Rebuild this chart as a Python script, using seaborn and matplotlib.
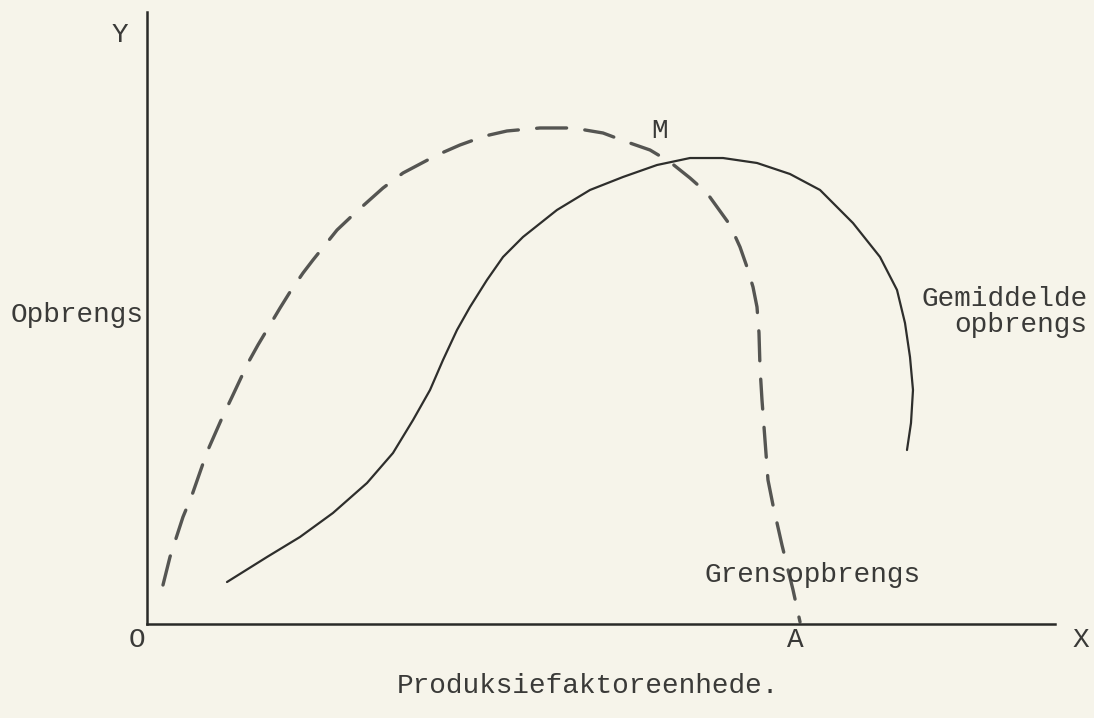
import numpy as np
import matplotlib
matplotlib.use("Agg")
import matplotlib.pyplot as plt
import pandas as pd
import seaborn as sns

# gemiddelde opbrengs (solid curve)
avg_x = [8.81, 13.22, 16.85, 20.48, 24.23, 27.09, 29.30, 31.17, 32.60, 34.14,
         35.57, 37.44, 39.21, 41.41, 45.15, 48.79, 52.42, 56.17, 59.80, 63.44,
         67.18, 70.81, 74.12, 77.75, 80.73, 82.60, 83.48, 84.03, 84.36, 84.14,
         83.70]
avg_y = [6.86, 10.95, 14.22, 18.14, 23.04, 27.94, 33.33, 38.24, 43.14, 48.04,
         51.80, 56.21, 59.97, 63.24, 67.65, 70.92, 73.04, 75.00, 76.14, 76.14,
         75.33, 73.53, 70.92, 65.52, 59.97, 54.58, 49.18, 43.63, 38.24, 32.84,
         28.43]

# grensopbrengs (dashed curve)
mar_x = [1.76, 2.53, 3.96, 4.96, 6.61, 8.26, 9.36, 11.12, 12.22, 14.65, 15.75,
         17.18, 18.28, 20.93, 22.91, 25.99, 28.19, 31.94, 34.47, 37.22, 39.65,
         43.28, 46.92, 50.22, 52.86, 55.40, 57.60, 59.80, 61.67, 62.78, 64.21,
         65.31, 66.08, 66.74, 67.18, 67.40, 67.51, 67.73, 68.06, 68.39, 68.94,
         69.93, 71.15, 71.92]
mar_y = [6.37, 10.95, 17.48, 21.08, 28.10, 33.66, 37.09, 42.65, 45.59, 51.63,
         54.25, 57.35, 59.48, 64.38, 67.16, 71.24, 73.69, 76.63, 78.27, 79.74,
         80.56, 81.05, 81.05, 80.23, 78.76, 77.45, 75.49, 72.88, 70.42, 68.14,
         65.20, 61.60, 58.33, 55.07, 51.80, 47.55, 41.99, 36.60, 30.07, 23.53,
         19.44, 12.91, 5.56, 0.33]

avg = pd.DataFrame({"x": avg_x, "y": avg_y})
mar = pd.DataFrame({"x": mar_x, "y": mar_y})

sns.set_style("white")
plt.rcParams["font.family"] = ["Liberation Mono", "DejaVu Sans Mono"]

paper = "#f6f4ea"
ink = "#3a3a38"

fig = plt.figure(figsize=(10.94, 7.18), dpi=100, facecolor=paper)
ax = fig.add_axes([147 / 1094, 94 / 718, 908 / 1094, 612 / 718])
ax.set_facecolor(paper)

sns.lineplot(data=avg, x="x", y="y", sort=False, estimator=None, ax=ax,
             color="#2e2e2c", linewidth=1.6,
             solid_capstyle="round", solid_joinstyle="round")
sns.lineplot(data=mar, x="x", y="y", sort=False, estimator=None, ax=ax,
             color="#555552", linewidth=2.4)
ax.lines[-1].set_dashes([9, 5.5])
ax.lines[-1].set_dash_capstyle("round")
ax.lines[-1].set_dash_joinstyle("round")

ax.set_xlim(0, 100)
ax.set_ylim(0, 100)
ax.set_xticks([])
ax.set_yticks([])
ax.set_xlabel("")
ax.set_ylabel("")
for side in ["top", "right"]:
    ax.spines[side].set_visible(False)
for side in ["left", "bottom"]:
    ax.spines[side].set_color("#2a2a28")
    ax.spines[side].set_linewidth(1.8)

fs = 20
kw = dict(fontsize=fs, color=ink, clip_on=False)
ax.text(-3.0, 96.2, "Y", ha="center", va="center", **kw)
ax.text(-1.1, -2.6, "O", ha="center", va="center", **kw)
ax.text(102.8, -2.6, "X", ha="center", va="center", **kw)
ax.text(71.4, -2.6, "A", ha="center", va="center", **kw)
ax.text(56.5, 80.6, "M", ha="center", va="center", **kw)
ax.text(-0.4, 50.5, "Opbrengs", ha="right", va="center", **kw)
ax.text(103.6, 51.0, "Gemiddelde\nopbrengs", ha="right", va="center",
        multialignment="right", linespacing=1.0, **kw)
ax.text(73.3, 8.0, "Grensopbrengs", ha="center", va="center", **kw)
ax.text(48.6, -10.1, "Produksiefaktoreenhede.", ha="center", va="center", **kw)

fig.savefig("out.png", dpi=100, facecolor=paper)
